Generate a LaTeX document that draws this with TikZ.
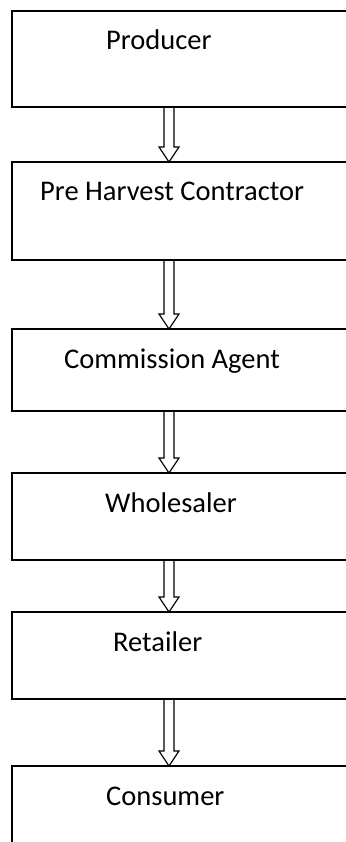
\documentclass[tikz,border=0pt]{standalone}
\usepackage{fontspec}
\setmainfont{Carlito}
\usetikzlibrary{positioning,calc}

\begin{document}
\begin{tikzpicture}[
    x=1pt,y=1pt,
    box/.style={draw,line width=1.6pt,minimum width=345pt,inner sep=0pt,outer sep=0pt},
    boxtext/.style={anchor=base west,inner sep=0pt,font=\fontsize{28.5}{34}\selectfont},
    flow/.style={line width=1.2pt,to path={let \p1=(\tikztostart),\p2=(\tikztotarget) in
      (\x1-5pt,\y1) -- (\x1-5pt,\y2+15pt) -- (\x1-10pt,\y2+15pt) -- (\x1,\y2)
      -- (\x1+10pt,\y2+15pt) -- (\x1+5pt,\y2+15pt) -- (\x1+5pt,\y1)}}
  ]
    \useasboundingbox (0,0) rectangle (345,-842);
    \node[box,minimum height=96pt,anchor=north west] (prod) at (12,-11) {};
    \node[box,minimum height=98pt,below=55pt of prod] (harvest) {};
    \node[box,minimum height=82pt,below=69pt of harvest] (agent) {};
    \node[box,minimum height=87pt,below=62pt of agent] (whole) {};
    \node[box,minimum height=87pt,below=52pt of whole] (retail) {};
    \node[box,minimum height=92pt,below=67pt of retail] (cons) {};
    \node[boxtext] (prodtxt) at ([shift={(94,-39)}]prod.north west) {Producer};
    \node[boxtext] (harvesttxt) at ([shift={(28,-39)}]harvest.north west) {Pre Harvest Contractor};
    \node[boxtext] (agenttxt) at ([shift={(52,-39)}]agent.north west) {Commission Agent};
    \node[boxtext] (wholetxt) at ([shift={(93,-39)}]whole.north west) {Wholesaler};
    \node[boxtext] (retailtxt) at ([shift={(101,-39)}]retail.north west) {Retailer};
    \node[boxtext] (constxt) at ([shift={(94,-39)}]cons.north west) {Consumer};
    \draw[flow] ([xshift=-15.5pt]prod.south) to ([xshift=-15.5pt]harvest.north);
    \draw[flow] ([xshift=-15.5pt]harvest.south) to ([xshift=-15.5pt]agent.north);
    \draw[flow] ([xshift=-15.5pt]agent.south) to ([xshift=-15.5pt]whole.north);
    \draw[flow] ([xshift=-15.5pt]whole.south) to ([xshift=-15.5pt]retail.north);
    \draw[flow] ([xshift=-15.5pt]retail.south) to ([xshift=-15.5pt]cons.north);
  \end{tikzpicture}
\end{document}
